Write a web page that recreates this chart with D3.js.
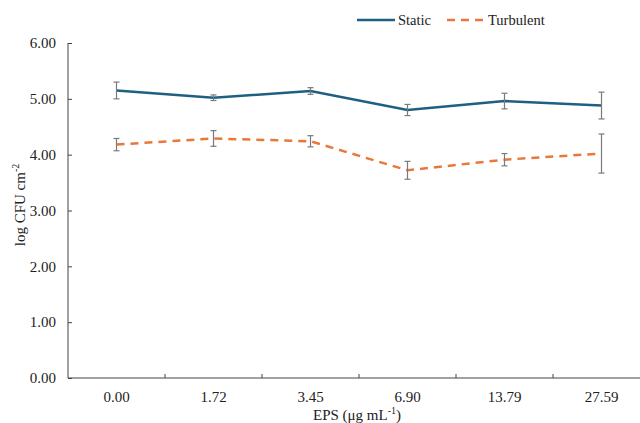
<!DOCTYPE html>
<html>
<head>
<meta charset="utf-8">
<script src="https://cdn.jsdelivr.net/npm/d3@7"></script>
<style>
  body { margin: 0; background: #fff; }
  svg text { font-family: "Liberation Serif", "Times New Roman", serif; fill: #222; }
</style>
</head>
<body>
<script>
// categories (EPS concentrations) and series values
var categories = ["0.00", "1.72", "3.45", "6.90", "13.79", "27.59"]
var staticVals = [5.15, 5.02, 5.14, 4.80, 4.96, 4.88]
var staticErr = [0.15, 0.05, 0.06, 0.10, 0.14, 0.24]
var turbVals = [4.18, 4.29, 4.24, 3.72, 3.91, 4.02]
var turbErr = [0.11, 0.14, 0.10, 0.16, 0.11, 0.35]
var yTicks = [0, 1, 2, 3, 4, 5, 6]

var width = 640, height = 423
var plotLeft = 68, plotRight = 650, plotTop = 43, plotBottom = 378

var svg = d3.select("body").append("svg")
    .attr("width", width)
    .attr("height", height)

var xScale = d3.scaleBand().domain(categories).range([plotLeft, plotRight])
var yScale = d3.scaleLinear().domain([0, 6]).range([plotBottom, plotTop])

// y axis with inward ticks
var yAxis = svg.append("g")
    .attr("transform", "translate(" + plotLeft + ",0)")
    .call(d3.axisRight(yScale).tickValues(yTicks).tickSize(4).tickFormat(d3.format(".2f")))
yAxis.select(".domain").attr("stroke", "#444").attr("d", "M0," + plotTop + "V" + plotBottom)
yAxis.selectAll("line").attr("stroke", "#444")
yAxis.selectAll("text")
    .attr("x", -12)
    .attr("text-anchor", "end")
    .style("font-size", "15px")

// x axis: ticks between categories, pointing up
var xg = svg.append("g").attr("transform", "translate(0," + plotBottom + ")")
xg.append("line").attr("x1", plotLeft).attr("x2", plotRight).attr("stroke", "#444")
xg.selectAll(".tk")
    .data(categories.slice(1))
    .enter().append("line")
    .attr("x1", d => xScale(d)).attr("x2", d => xScale(d))
    .attr("y1", 0).attr("y2", -4)
    .attr("stroke", "#444")
xg.selectAll(".lbl")
    .data(categories)
    .enter().append("text")
    .attr("x", d => xScale(d) + xScale.bandwidth() / 2)
    .attr("y", 24)
    .attr("text-anchor", "middle")
    .style("font-size", "15px")
    .text(d => d)

// axis titles
var xt = svg.append("text")
    .attr("x", 357).attr("y", 420)
    .attr("text-anchor", "middle")
    .style("font-size", "15px")
xt.append("tspan").text("EPS (\u03bcg mL")
xt.append("tspan").attr("dy", -6).style("font-size", "10px").text("-1")
xt.append("tspan").attr("dy", 6).text(")")

var yt = svg.append("text")
    .attr("transform", "translate(25,205) rotate(-90)")
    .attr("text-anchor", "middle")
    .style("font-size", "15px")
yt.append("tspan").text("log CFU cm")
yt.append("tspan").attr("dy", -6).style("font-size", "10px").text("-2")

function cx(i) { return xScale(categories[i]) + xScale.bandwidth() / 2 }

function drawSeries(vals, errs, color, dash) {
    var line = d3.line().x((d, i) => cx(i)).y(d => yScale(d))
    svg.append("path")
        .datum(vals)
        .attr("fill", "none")
        .attr("stroke", color)
        .attr("stroke-width", 2.5)
        .attr("stroke-dasharray", dash)
        .attr("d", line)

    var eb = svg.append("g").attr("stroke", "#7a7a7a").attr("stroke-width", 1.2)
    vals.forEach(function (v, i) {
        var x = cx(i), y1 = yScale(v + errs[i]), y2 = yScale(v - errs[i])
        eb.append("line").attr("x1", x).attr("x2", x).attr("y1", y1).attr("y2", y2)
        eb.append("line").attr("x1", x - 3).attr("x2", x + 3).attr("y1", y1).attr("y2", y1)
        eb.append("line").attr("x1", x - 3).attr("x2", x + 3).attr("y1", y2).attr("y2", y2)
    })
}

drawSeries(staticVals, staticErr, "#1f5f82", null)
drawSeries(turbVals, turbErr, "#e8783a", "8,6")

// legend
var lg = svg.append("g")
lg.append("line").attr("x1", 357).attr("x2", 395).attr("y1", 20).attr("y2", 20)
    .attr("stroke", "#1f5f82").attr("stroke-width", 2.5)
lg.append("text").attr("x", 398).attr("y", 25).style("font-size", "14.5px").text("Static")
lg.append("line").attr("x1", 447).attr("x2", 485).attr("y1", 20).attr("y2", 20)
    .attr("stroke", "#e8783a").attr("stroke-width", 2.5).attr("stroke-dasharray", "8,6")
lg.append("text").attr("x", 488).attr("y", 25).style("font-size", "14.5px").text("Turbulent")
</script>
</body>
</html>
